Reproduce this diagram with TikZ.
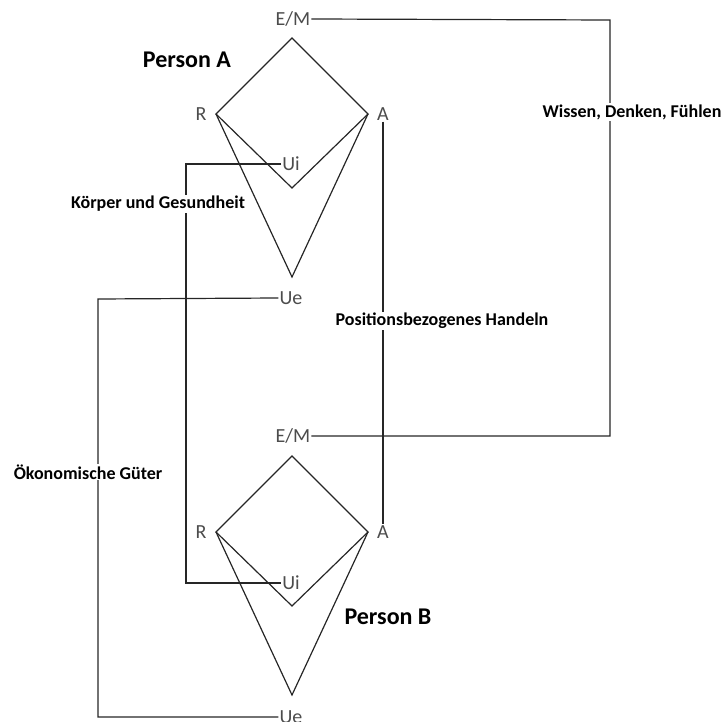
\documentclass[tikz,border=0pt]{standalone}
\usepackage{fontspec}
\setmainfont{Carlito}
\begin{document}
\begin{tikzpicture}[x=1pt,y=-1pt]
\tikzstyle{every node}+=[inner sep=1pt]
\tikzstyle{vlabel}=[text=black!70, font=\fontsize{20}{24}\selectfont]
\tikzstyle{tlabel}=[font=\fontsize{18}{21}\selectfont\bfseries]
\tikzstyle{person}=[font=\fontsize{24}{28}\selectfont\bfseries]
\tikzstyle{edge}=[black!85, line width=1.2pt]
\useasboundingbox (0,0) rectangle (724,722);
% Person A
\coordinate (topA) at (292,38);
\coordinate (rA) at (216,114);
\coordinate (aA) at (368,114);
\coordinate (inA) at (292,188);
\coordinate (veA) at (292,277);
\draw [edge] (topA) -- (aA) -- (inA) -- (rA) -- cycle;
\draw [edge] (rA) -- (veA) -- (aA);
\node [vlabel] (emA) at (293,19) {E/M};
\node [vlabel] (rlA) at (201,114) {R};
\node [vlabel] (alA) at (383,114) {A};
\node [vlabel] (uiA) at (291,164) {Ui};
\node [vlabel] (ueA) at (291,298) {Ue};
\node [person] (persA) at (187,60) {Person A};
% Person B
\coordinate (topB) at (292,456);
\coordinate (rB) at (216,532);
\coordinate (aB) at (368,532);
\coordinate (inB) at (292,606);
\coordinate (veB) at (292,695);
\draw [edge] (topB) -- (aB) -- (inB) -- (rB) -- cycle;
\draw [edge] (rB) -- (veB) -- (aB);
\node [vlabel] (emB) at (293,436) {E/M};
\node [vlabel] (rlB) at (201,532) {R};
\node [vlabel] (alB) at (383,532) {A};
\node [vlabel] (uiB) at (291,583) {Ui};
\node [vlabel] (ueB) at (291,717) {Ue};
\node [person] (persB) at (388,617) {Person B};
% connections
\draw [edge] (emA.east) -- (610,20) |- (emB.east);
\draw [edge] (alA.south) -- (alB.north);
\draw [edge] (uiA.west) -- (186,164) |- (uiB.west);
\draw [edge] (ueA.west) -- (98,299) |- (ueB.west);
\node [tlabel, fill=white] (wdf) at (632,112) {Wissen, Denken, Fühlen};
\node [tlabel, fill=white] (pbh) at (442,321) {Positionsbezogenes Handeln};
\node [tlabel, fill=white] (kug) at (158,204) {Körper und Gesundheit};
\node [tlabel, fill=white] (oeg) at (88,472) {Ökonomische Güter};
\end{tikzpicture}
\end{document}
